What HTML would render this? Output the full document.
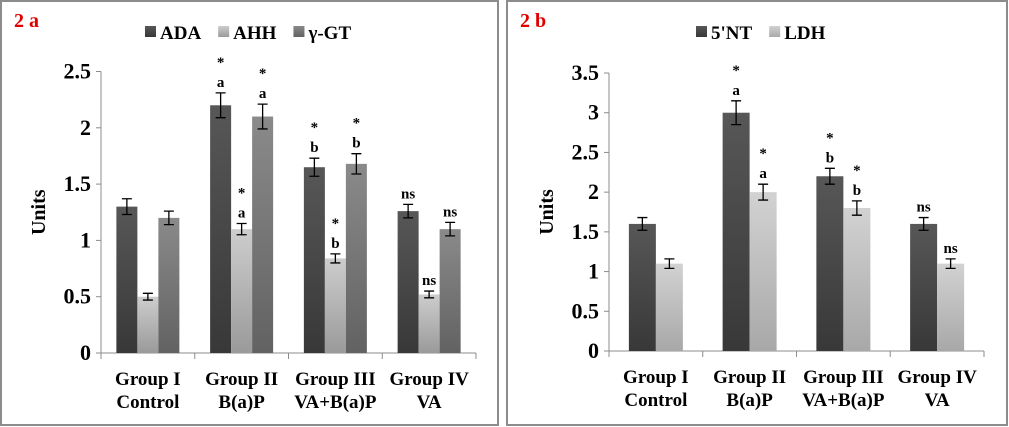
<!DOCTYPE html>
<html><head><meta charset="utf-8">
<style>
body{margin:0;background:#fff;width:1009px;height:427px;overflow:hidden;font-family:"Liberation Serif","DejaVu Serif",serif;}
svg{position:absolute;left:0;top:0}
svg text{font-family:"Liberation Serif","DejaVu Serif",serif !important;font-weight:bold;fill:#000}
</style></head>
<body>
<svg id="chart" width="1009" height="427">
<defs>
<linearGradient id="gDark" x1="0" y1="0" x2="0" y2="1"><stop offset="0" stop-color="#575757"/><stop offset="1" stop-color="#383838"/></linearGradient>
<linearGradient id="gLight" x1="0" y1="0" x2="0" y2="1"><stop offset="0" stop-color="#cdcdcd"/><stop offset="1" stop-color="#9a9a9a"/></linearGradient>
<linearGradient id="gMid" x1="0" y1="0" x2="0" y2="1"><stop offset="0" stop-color="#8a8a8a"/><stop offset="1" stop-color="#626262"/></linearGradient>
<linearGradient id="gLight2" x1="0" y1="0" x2="0" y2="1"><stop offset="0" stop-color="#d2d2d2"/><stop offset="1" stop-color="#a8a8a8"/></linearGradient>
</defs>
<rect x="1" y="1" width="497" height="424" fill="#fff" stroke="#8c8c8c" stroke-width="2"/>
<rect x="507" y="1" width="500" height="424" fill="#fff" stroke="#8c8c8c" stroke-width="2"/>
<text x="14" y="27" font-size="20" font-family="Liberation Serif, serif" style="fill:#e00000">2 a</text>
<text x="520" y="27" font-size="20" font-family="Liberation Serif, serif" style="fill:#e00000">2 b</text>
</svg>
<script>
const categories = [["Group I","Control"],["Group II","B(a)P"],["Group III","VA+B(a)P"],["Group IV","VA"]];
const aSeriesNames = ["ADA","AHH","\u03b3-GT"];
const aADA = [1.3, 2.2, 1.65, 1.26];
const aAHH = [0.5, 1.1, 0.84, 0.52];
const aGGT = [1.2, 2.1, 1.68, 1.1];
const aADAerr = [0.07, 0.11, 0.08, 0.06];
const aAHHerr = [0.03, 0.05, 0.04, 0.03];
const aGGTerr = [0.06, 0.11, 0.09, 0.06];
const aADAnote = [[], ["*","a"], ["*","b"], ["ns"]];
const aAHHnote = [[], ["*","a"], ["*","b"], ["ns"]];
const aGGTnote = [[], ["*","a"], ["*","b"], ["ns"]];
const aTicks = [0, 0.5, 1, 1.5, 2, 2.5];
const aTickLabels = ["0","0.5","1","1.5","2","2.5"];
const bSeriesNames = ["5'NT","LDH"];
const bNT = [1.6, 3.0, 2.2, 1.6];
const bLDH = [1.1, 2.0, 1.8, 1.1];
const bNTerr = [0.08, 0.15, 0.1, 0.08];
const bLDHerr = [0.06, 0.1, 0.09, 0.06];
const bNTnote = [[], ["*","a"], ["*","b"], ["ns"]];
const bLDHnote = [[], ["*","a"], ["*","b"], ["ns"]];
const bTicks = [0, 0.5, 1, 1.5, 2, 2.5, 3, 3.5];
const bTickLabels = ["0","0.5","1","1.5","2","2.5","3","3.5"];

const svg = document.getElementById('chart');
const NS = 'http://www.w3.org/2000/svg';
function mk(tag, attrs, parent){const e=document.createElementNS(NS,tag);for(const k in attrs)e.setAttribute(k,attrs[k]);if(tag==='text'){e.setAttribute('font-family','Liberation Serif, DejaVu Serif, serif');e.setAttribute('font-weight','bold');}(parent||svg).appendChild(e);return e;}

function drawPanel(p){
  const y = v => p.y0 - v/p.ymax*(p.y0-p.ytop);
  const gw = (p.xr - p.xl)/categories.length;
  let ax = mk('line',{x1:p.xl,y1:p.ytop,x2:p.xl,y2:p.y0,stroke:'#8c8c8c','stroke-width':1});
  
  
  let xa = mk('line',{x1:p.xl,y1:p.y0,x2:p.xr,y2:p.y0,stroke:'#8c8c8c','stroke-width':1});
  
  
  p.ticks.forEach((t,i)=>{
    const tk = mk('line',{x1:p.xl-5,y1:y(t),x2:p.xl,y2:y(t),stroke:'#8c8c8c'});
    
    
    const tl = mk('text',{x:p.xl-10,y:y(t)+7,'text-anchor':'end','font-size':22});
    tl.textContent = p.tickLabels[i];
    
    
  });
  for(let g=0; g<=categories.length; g++){
    const tx = p.xl + g*gw;
    const t = mk('line',{x1:tx,y1:p.y0,x2:tx,y2:p.y0+6,stroke:'#8c8c8c'});
    
    
  }
  categories.forEach((c,g)=>{
    const cx = p.xl + g*gw + gw/2;
    c.forEach((line,li)=>{
      const t = mk('text',{x:cx,y:p.y0+32+li*23,'text-anchor':'middle','font-size':19});
      t.textContent = line;
      
      
    });
  });
  const yt = mk('text',{x:0,y:0,'text-anchor':'middle','font-size':20,transform:`translate(${p.xl-56},${(p.y0+p.ytop)/2}) rotate(-90)`});
  yt.textContent = 'Units';
  
  
  const ns = p.series.length;
  const totalW = ns*p.bw;
  p.series.forEach((s,si)=>{
    s.vals.forEach((v,g)=>{
      const x0 = p.xl + g*gw + (gw-totalW)/2 + si*p.bw;
      const r = mk('rect',{x:x0,y:y(v),width:p.bw,height:p.y0-y(v),fill:s.fill});
      
      
      const cx = x0 + p.bw/2, e = s.err[g];
      const top = y(v+e), bot = y(v-e);
      const eb = mk('path',{d:`M${cx},${top}V${bot}M${cx-5},${top}H${cx+5}M${cx-5},${bot}H${cx+5}`,stroke:'#000','stroke-width':1.3,fill:'none'});
      
      
      const notes = s.notes[g];
      notes.slice().reverse().forEach((n,ni)=>{
        const isStar = n==='*';
        const ty = top - 6 - ni*22 + (isStar?2:0);
        const t = mk('text',{x:cx,y:ty,'text-anchor':'middle','font-size':15});
        t.textContent = n;
        
        
      });
    });
  });
  let lx = p.legendX;
  p.series.forEach(s=>{
    const r = mk('rect',{x:lx,y:26,width:11,height:11,fill:s.fill});
    
    
    const t = mk('text',{x:lx+15,y:39,'font-size':19});
    t.textContent = s.name;
    
    
    lx += 15 + t.getComputedTextLength() + 17;
  });
}
drawPanel({id:'panel-a', xl:101, xr:476, y0:353, ytop:71.5, ymax:2.5, bw:21, ticks:aTicks, tickLabels:aTickLabels, legendX:145,
  series:[
    {key:'ada',name:aSeriesNames[0],vals:aADA,err:aADAerr,notes:aADAnote,fill:'url(#gDark)'},
    {key:'ahh',name:aSeriesNames[1],vals:aAHH,err:aAHHerr,notes:aAHHnote,fill:'url(#gLight)'},
    {key:'ggt',name:aSeriesNames[2],vals:aGGT,err:aGGTerr,notes:aGGTnote,fill:'url(#gMid)'}]});
drawPanel({id:'panel-b', xl:609, xr:984, y0:351, ytop:73, ymax:3.5, bw:27, ticks:bTicks, tickLabels:bTickLabels, legendX:696,
  series:[
    {key:'5nt',name:bSeriesNames[0],vals:bNT,err:bNTerr,notes:bNTnote,fill:'url(#gDark)'},
    {key:'ldh',name:bSeriesNames[1],vals:bLDH,err:bLDHerr,notes:bLDHnote,fill:'url(#gLight2)'}]});
</script>
</body></html>
